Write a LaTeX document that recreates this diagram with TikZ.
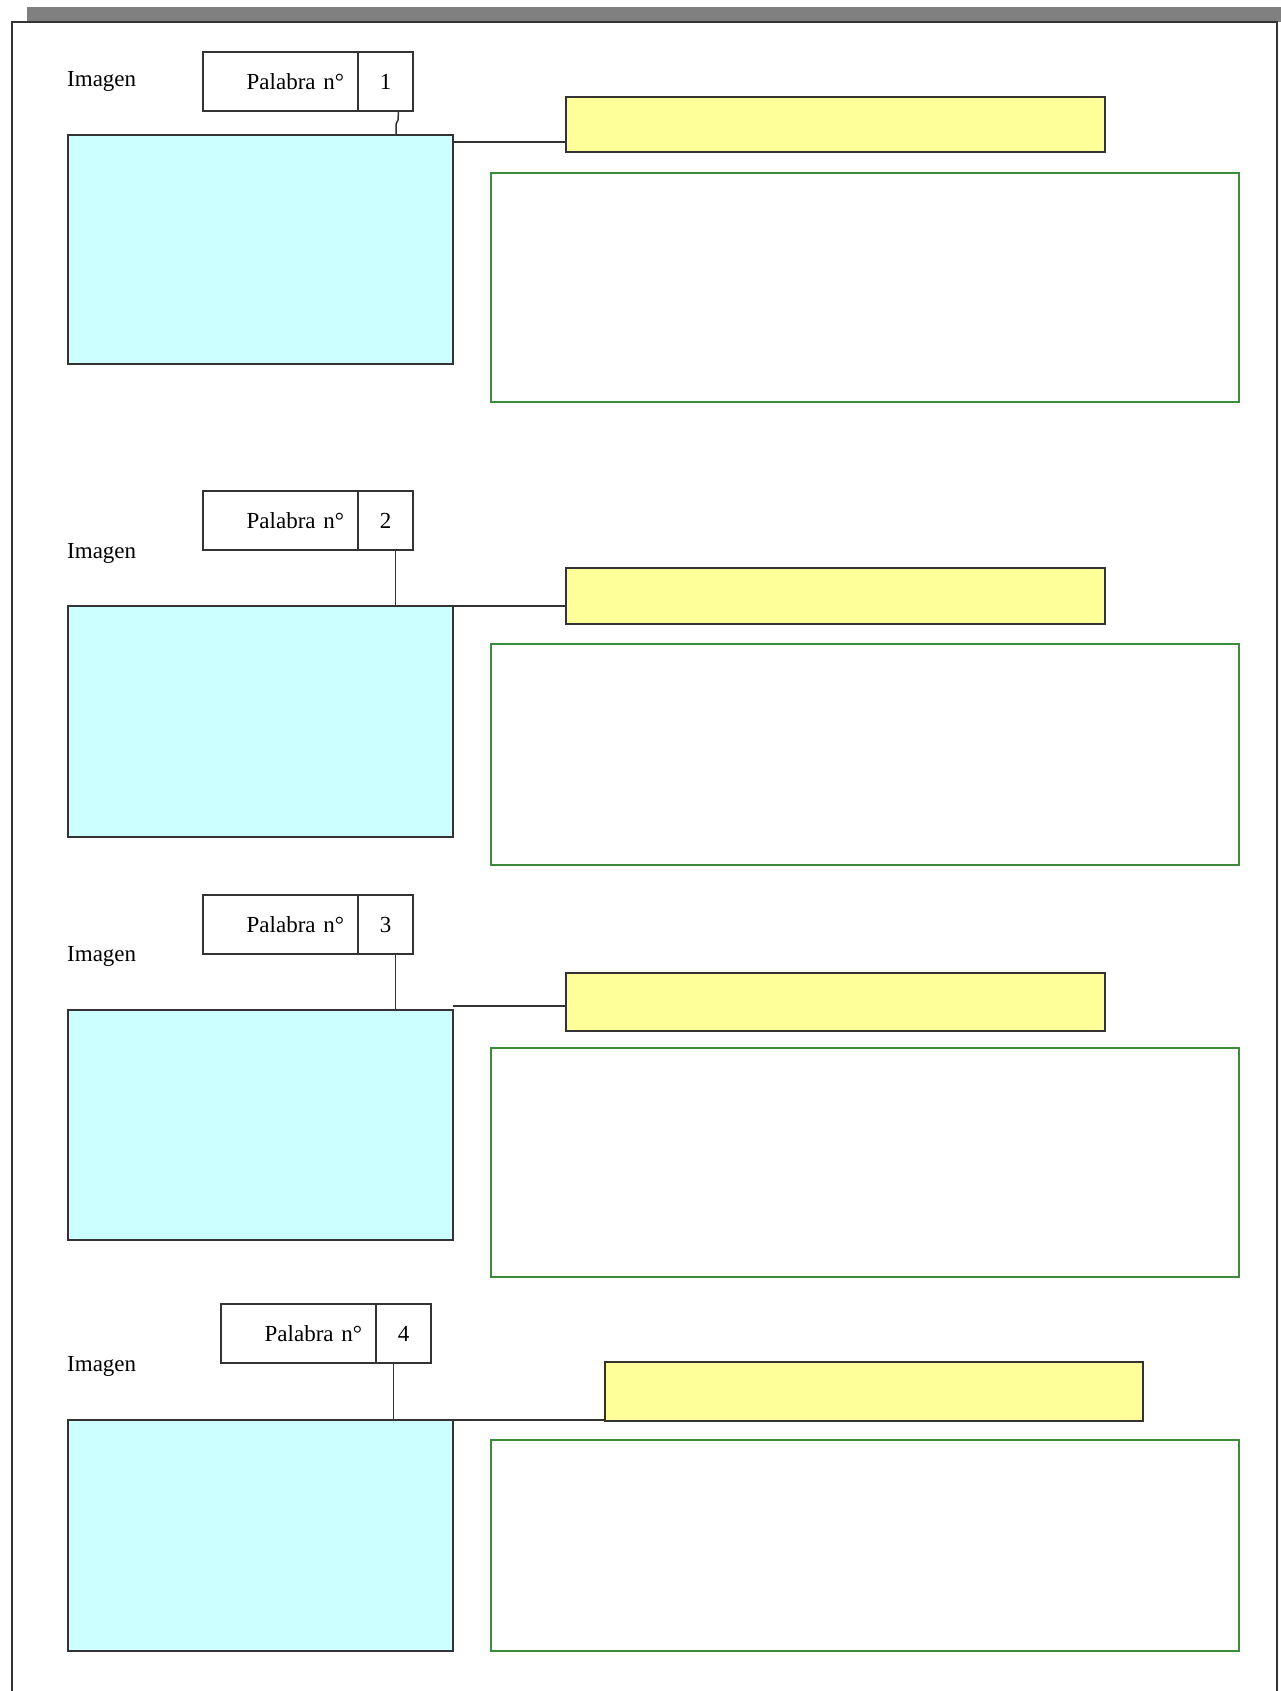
\documentclass[tikz,border=0pt]{standalone}
\usepackage{fontspec}
\setmainfont{Liberation Serif}
\definecolor{imgcyan}{HTML}{CCFFFF}
\definecolor{titleyellow}{HTML}{FFFF99}
\definecolor{textgreen}{HTML}{3C8C3C}
\definecolor{framegray}{HTML}{333333}
\definecolor{bargray}{HTML}{808080}
\tikzset{
    box/.style={line width=1.5pt, anchor=north west, inner sep=0pt, outer sep=0pt},
    imgbox/.style={box, draw=framegray, fill=imgcyan, minimum width=385pt, minimum height=230pt},
    titlebox/.style={box, draw=framegray, fill=titleyellow, minimum width=539pt, minimum height=55pt},
    textbox/.style={box, draw=textgreen, minimum width=748pt},
    wordbox/.style={box, draw=framegray, minimum width=154pt, minimum height=59pt, text width=127pt, align=right, inner xsep=14pt, font=\fontsize{23}{26}\selectfont},
    numbox/.style={box, draw=framegray, minimum width=55pt, minimum height=59pt, font=\fontsize{23}{26}\selectfont},
    imglabel/.style={anchor=west, inner sep=0pt, font=\fontsize{23}{26}\selectfont},
    link/.style={draw=framegray, line width=1.5pt}
}
\begin{document}
\begin{tikzpicture}[x=1pt, y=-1pt]
        \useasboundingbox (0, 0) rectangle (1281, 1691);
        \fill[bargray] (27, 7) rectangle (1281, 22);
        \draw[framegray, line width=1.6pt] (12, 1691) -- (12, 22) -- (1277, 22) -- (1277, 1691);

        \node[imglabel] (lab1) at (67, 81) {Imagen};
        \node[wordbox] (word1) at (203, 52) {Palabra n°};
        \node[numbox] (num1) at (word1.north east) {1};
        \node[imgbox, minimum height=229pt] (img1) at (68, 135) {};
        \node[titlebox] (ttl1) at (566, 97) {};
        \node[textbox, minimum height=229pt] (txt1) at (491, 173) {};
        \draw[link] ([xshift=13pt]num1.south) -- ([xshift=12.5pt, yshift=-9pt]num1.south) -- ([xshift=10.5pt, yshift=-13pt]num1.south) -- ([xshift=10.5pt]num1.south |- img1.north);
        \draw[link] ([yshift=-7pt]img1.north east) -- ([yshift=-7pt]img1.north east -| ttl1.west);

        \node[imglabel] (lab2) at (67, 553) {Imagen};
        \node[wordbox] (word2) at (203, 491) {Palabra n°};
        \node[numbox] (num2) at (word2.north east) {2};
        \node[imgbox, minimum height=231pt] (img2) at (68, 606) {};
        \node[titlebox, minimum height=56pt] (ttl2) at (566, 568) {};
        \node[textbox, minimum height=221pt] (txt2) at (491, 644) {};
        \draw[link] ([xshift=10pt]num2.south) -- ([xshift=10pt]num2.south |- img2.north);
        \draw[link] (img2.north east) -- (img2.north east -| ttl2.west);

        \node[imglabel] (lab3) at (67, 956) {Imagen};
        \node[wordbox] (word3) at (203, 895) {Palabra n°};
        \node[numbox] (num3) at (word3.north east) {3};
        \node[imgbox] (img3) at (68, 1010) {};
        \node[titlebox, minimum height=58pt] (ttl3) at (566, 973) {};
        \node[textbox, minimum height=229pt] (txt3) at (491, 1048) {};
        \draw[link] ([xshift=10pt]num3.south) -- ([xshift=10pt]num3.south |- img3.north);
        \draw[link] ([yshift=4pt]img3.north east) -- ([yshift=4pt]img3.north east -| ttl3.west);

        \node[imglabel] (lab4) at (67, 1366) {Imagen};
        \node[wordbox] (word4) at (221, 1304) {Palabra n°};
        \node[numbox] (num4) at (word4.north east) {4};
        \node[imgbox, minimum height=231pt] (img4) at (68, 1420) {};
        \node[titlebox, minimum width=538pt, minimum height=59pt] (ttl4) at (605, 1362) {};
        \node[textbox, minimum height=211pt] (txt4) at (491, 1440) {};
        \draw[link] ([xshift=-10pt]num4.south) -- ([xshift=-10pt]num4.south |- img4.north);
        \draw[link] (img4.north east) -- (img4.north east -| ttl4.west);
\end{tikzpicture}
\end{document}
